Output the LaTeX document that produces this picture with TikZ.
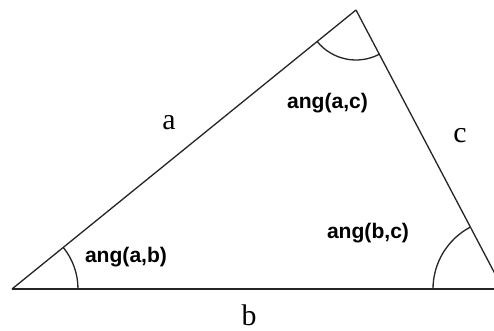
\documentclass[tikz,border=0pt]{standalone}
\usepackage{fontspec}
\setmainfont{Liberation Serif}
\newfontfamily\angfont{Liberation Sans}
\usepackage{tikz}
\usetikzlibrary{calc}

\begin{document}
\begin{tikzpicture}[
  x=0.02cm,y=0.02cm,
  side/.style={line width=0.75pt,black!85},
  angarc/.style={line width=0.75pt,black!85},
  lbl/.style={inner sep=0pt,font=\fontsize{17}{20}\selectfont},
  anglbl/.style={inner sep=0pt,font=\angfont\bfseries\fontsize{12}{14}\selectfont}
]
\useasboundingbox (0,0) rectangle (494,331);
\clip (0,0) rectangle (494,331);
\coordinate (pa) at (12,42);
\coordinate (pt) at (356,321);
\coordinate (pc) at (503,42);
\draw[side] (pa)--(pt);
\draw[side] (pt)--(pc);
\draw[side] (pa)--(pc);
% angle arcs
\draw[angarc] ($(pa)+(0:66)$) arc[start angle=0,end angle=39,radius=66];
\draw[angarc] ($(pt)+(219:50)$) arc[start angle=219,end angle=297.8,radius=50];
\draw[angarc] ($(pc)+(180:70)$) arc[start angle=180,end angle=117.8,radius=70];
% labels
\node[lbl] (la) at (169,208) {a};
\node[lbl] (lb) at (249,16) {b};
\node[lbl] (lc) at (460,195) {c};
\node[anglbl] (lac) at (327.5,228) {ang(a,c)};
\node[anglbl] (lbc) at (368,98) {ang(b,c)};
\node[anglbl] (lab) at (126,74) {ang(a,b)};
\end{tikzpicture}
\end{document}
